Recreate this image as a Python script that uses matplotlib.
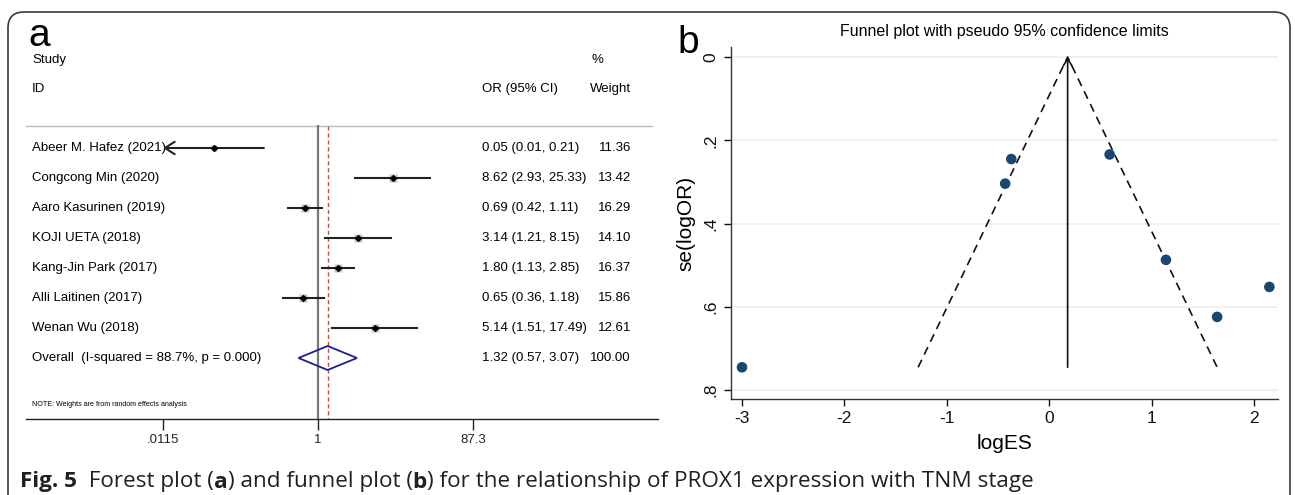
import matplotlib
matplotlib.use("Agg")
import matplotlib.pyplot as plt
import matplotlib.transforms as mtransforms
from matplotlib.patches import FancyBboxPatch, Polygon
import numpy as np

plt.rcParams['font.family'] = ['Liberation Sans', 'DejaVu Sans']

# ---------------- data ----------------
studies = ["Abeer M. Hafez (2021)", "Congcong Min (2020)", "Aaro Kasurinen (2019)",
           "KOJI UETA (2018)", "Kang-Jin Park (2017)", "Alli Laitinen (2017)",
           "Wenan Wu (2018)"]
or_est = [0.05, 8.62, 0.69, 3.14, 1.80, 0.65, 5.14]
or_lo = [0.01, 2.93, 0.42, 1.21, 1.13, 0.36, 1.51]
or_hi = [0.21, 25.33, 1.11, 8.15, 2.85, 1.18, 17.49]
weights = [11.36, 13.42, 16.29, 14.10, 16.37, 15.86, 12.61]
overall_label = "Overall  (I-squared = 88.7%, p = 0.000)"
overall = (1.32, 0.57, 3.07)
overall_weight = 100.00
forest_ticks = [0.0115, 1, 87.3]
forest_ticklabels = [".0115", "1", "87.3"]

funnel_logES = [-3.00, 2.15, -0.37, 1.14, 0.59, -0.43, 1.64]
funnel_se = [0.745, 0.552, 0.245, 0.487, 0.234, 0.304, 0.624]
funnel_pooled = 0.18
funnel_xticks = [-3, -2, -1, 0, 1, 2]
funnel_yticks = [0, 0.2, 0.4, 0.6, 0.8]
funnel_yticklabels = ["0", ".2", ".4", ".6", ".8"]

# ---------------- figure ----------------
W, H = 1295, 495
fig = plt.figure(figsize=(W / 100, H / 100), dpi=100)


def rect(l, t, r, b):
    return [l / W, 1 - b / H, (r - l) / W, (b - t) / H]


# frame
frame_ax = fig.add_axes([0, 0, 1, 1])
frame_ax.set_xlim(0, W)
frame_ax.set_ylim(H, 0)
frame_ax.axis('off')
frame = FancyBboxPatch((8, 12), 1282, 560, boxstyle="round,pad=0,rounding_size=16",
                       fc='none', ec='#3a3a3a', lw=1.2)
frame_ax.add_patch(frame)

# ---------------- forest plot ----------------
L, R, T, B = 26, 658, 40, 419
ax = fig.add_axes(rect(L, T, R, B))
ax.set_xscale('log')
c0 = 318
k = 79.9
ax.set_xlim(10 ** ((L - c0) / k), 10 ** ((R - c0) / k))
row0, rowh = 148, 30
ax.set_ylim((B - row0) / rowh, (T - row0) / rowh)
for s in ['top', 'left', 'right']:
    ax.spines[s].set_visible(False)
ax.spines['bottom'].set_color('#222222')
ax.spines['bottom'].set_linewidth(1.0)
ax.set_yticks([])
ax.set_xticks(forest_ticks)
ax.set_xticklabels(forest_ticklabels)
ax.xaxis.set_minor_locator(matplotlib.ticker.NullLocator())
ax.tick_params(axis='x', direction='out', length=8, width=1, labelsize=9.5, pad=3, colors='#222222')

tr = mtransforms.blended_transform_factory(ax.transAxes, ax.transData)


def fx(px):
    return (px - L) / (R - L)


ysep = (126 - row0) / rowh
ybot = (B - row0) / rowh
ax.plot([0, 0.99], [ysep, ysep], transform=tr, color='#bbbbbb', lw=1, clip_on=False)
ax.plot([1, 1], [ysep, ybot], color='#777777', lw=1.6)
ax.plot([overall[0], overall[0]], [ysep, ybot], color='#c0504d', lw=1, ls=(0, (3, 2)))

fs = 9.5
x_name, x_or, x_w = fx(32), fx(482), fx(631)
ax.text(x_name, (60 - row0) / rowh, "Study", transform=tr, fontsize=fs, va='center')
ax.text(x_name, (89 - row0) / rowh, "ID", transform=tr, fontsize=fs, va='center')
ax.text(x_or, (89 - row0) / rowh, "OR (95% CI)", transform=tr, fontsize=fs, va='center')
ax.text(fx(592), (60 - row0) / rowh, "%", transform=tr, fontsize=fs, va='center')
ax.text(x_w, (89 - row0) / rowh, "Weight", transform=tr, fontsize=fs, va='center', ha='right')

xmin_plot = forest_ticks[0]
for i, (name, e, lo, hi, w) in enumerate(zip(studies, or_est, or_lo, or_hi, weights)):
    y = i
    ax.text(x_name, y, name, transform=tr, fontsize=fs, va='center')
    ax.text(x_or, y, f"{e:.2f} ({lo:.2f}, {hi:.2f})", transform=tr, fontsize=fs, va='center')
    ax.text(x_w, y, f"{w:.2f}", transform=tr, fontsize=fs, va='center', ha='right')
    ms = 5.6 * np.sqrt(w / 15)
    ax.plot([e], [y], marker='s', ms=ms, color='#c8c8c8', mec='none', zorder=2)
    if lo < xmin_plot:
        ax.annotate("", xy=(xmin_plot, y), xytext=(hi, y),
                    arrowprops=dict(arrowstyle='->,head_length=0.7,head_width=0.45',
                                    color='#222222', lw=1.5, shrinkA=0, shrinkB=0), zorder=3)
    else:
        ax.plot([lo, hi], [y, y], color='#222222', lw=1.5, zorder=3)
    ax.plot([e], [y], marker='D', ms=3, color='black', zorder=4)

yo = len(studies)
ax.text(x_name, yo, overall_label, transform=tr, fontsize=fs, va='center')
ax.text(x_or, yo, f"{overall[0]:.2f} ({overall[1]:.2f}, {overall[2]:.2f})",
        transform=tr, fontsize=fs, va='center')
ax.text(x_w, yo, f"{overall_weight:.2f}", transform=tr, fontsize=fs, va='center', ha='right')
dh = 0.4
diamond = Polygon([[overall[1], yo], [overall[0], yo - dh], [overall[2], yo], [overall[0], yo + dh]],
                  closed=True, fc='none', ec='#1f1f8a', lw=1.3, zorder=5)
ax.add_patch(diamond)
ax.text(x_name, (405 - row0) / rowh, "NOTE: Weights are from random effects analysis",
        transform=tr, fontsize=5.1, va='center')

fig.text(28 / W, 1 - 36 / H, "a", fontsize=28, va='center', ha='left')

# ---------------- funnel plot ----------------
FL, FR, FT, FB = 731, 1278, 47, 399
bx = fig.add_axes(rect(FL, FT, FR, FB))
x0px, xpu = 742, 102.4
bx.set_xlim(-3 + (FL - x0px) / xpu, -3 + (FR - x0px) / xpu)
y0px, ypu = 57, 83.3 / 0.2
bx.set_ylim((FB - y0px) / ypu, (FT - y0px) / ypu)
for s in ['top', 'right']:
    bx.spines[s].set_visible(False)
for s in ['left', 'bottom']:
    bx.spines[s].set_color('#333333')
    bx.spines[s].set_linewidth(1.0)
bx.set_xticks(funnel_xticks)
bx.set_xticklabels([str(t) for t in funnel_xticks])
bx.set_yticks(funnel_yticks)
bx.set_yticklabels(funnel_yticklabels, rotation=90, va='center')
bx.tick_params(axis='both', direction='out', length=5, width=1, labelsize=12.5, colors='#111111')
bx.tick_params(axis='y', pad=4)
for t in funnel_yticks:
    bx.axhline(t, color='#e6f0f2', lw=1.2, zorder=0)

semax = max(funnel_se)
bx.plot([funnel_pooled - 1.96 * semax, funnel_pooled, funnel_pooled + 1.96 * semax],
        [semax, 0, semax], color='#111111', lw=1.2, ls=(0, (5, 3.5)), zorder=2)
bx.annotate("", xy=(funnel_pooled, 0), xytext=(funnel_pooled, semax),
            arrowprops=dict(arrowstyle='->,head_length=0.5,head_width=0.3', color='#111111',
                            lw=1.2, shrinkA=0, shrinkB=0), zorder=2)
bx.scatter(funnel_logES, funnel_se, s=58, color='#1a476f', zorder=3, edgecolors='none', clip_on=False)

bx.set_title("Funnel plot with pseudo 95% confidence limits", fontsize=11.5, pad=8)
bx.set_xlabel("logES", fontsize=15, labelpad=6)
bx.set_ylabel("se(logOR)", fontsize=15, labelpad=6)

fig.text(677 / W, 1 - 43 / H, "b", fontsize=28, va='center', ha='left')

# ---------------- caption ----------------
cap_parts = [("Fig. 5", 'bold'), ("  Forest plot (", 'normal'), ("a", 'bold'),
             (") and funnel plot (", 'normal'), ("b", 'bold'),
             (") for the relationship of PROX1 expression with TNM stage", 'normal')]
cap_family = ['Open Sans', 'DejaVu Sans']
renderer = fig.canvas.get_renderer()
# measure at a base size, then scale to the target width
base = 12.0
total = 0
for txt, wgt in cap_parts:
    t = fig.text(0, 0, txt, fontsize=base, fontweight=wgt, family=cap_family)
    total += t.get_window_extent(renderer=renderer).width
    t.remove()
cap_size = base * (1008 / total)
xcur = 20
for txt, wgt in cap_parts:
    t = fig.text(xcur / W, 1 - 482 / H, txt, fontsize=cap_size, fontweight=wgt,
                 family=cap_family, va='center', ha='left', color='#231f20')
    xcur += t.get_window_extent(renderer=renderer).width

fig.savefig("out.png", dpi=100)
